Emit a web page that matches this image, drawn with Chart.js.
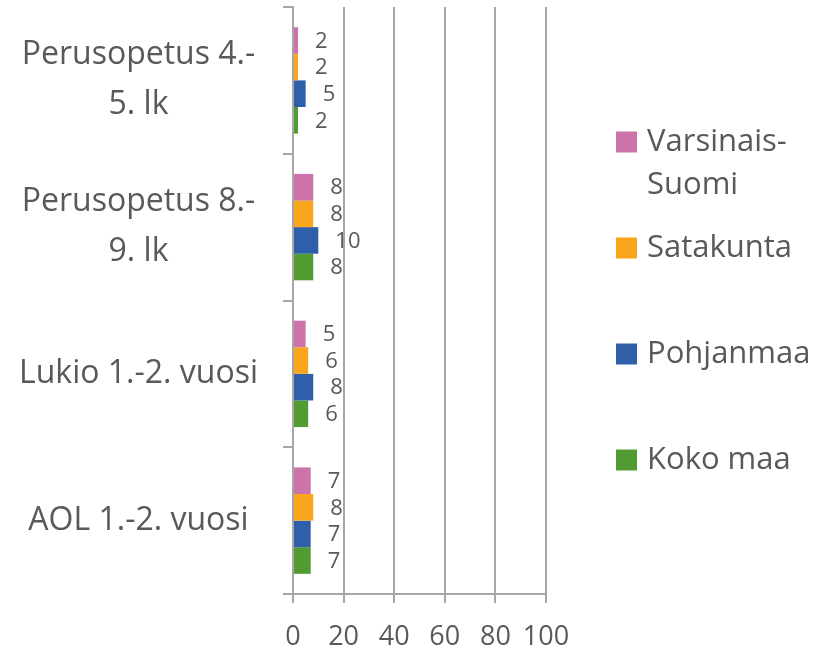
<!DOCTYPE html>
<html>
<head>
<meta charset="utf-8">
<script src="https://cdn.jsdelivr.net/npm/chart.js@4.4.1/dist/chart.umd.min.js"></script>
<style>
  html, body { margin: 0; padding: 0; background: #ffffff; }
  #chart { display: block; }
</style>
</head>
<body>
<canvas id="chart" width="821" height="649"></canvas>
<script>
// Categories, top to bottom
const categories = [
  ["Perusopetus 4.-", "5. lk"],
  ["Perusopetus 8.-", "9. lk"],
  "Lukio 1.-2. vuosi",
  "AOL 1.-2. vuosi"
]

// Series values (one per category)
const varsinaisSuomi = [2, 8, 5, 7]
const satakunta = [2, 8, 6, 8]
const pohjanmaa = [5, 10, 8, 7]
const kokoMaa = [2, 8, 6, 7]

const seriesNames = [["Varsinais-", "Suomi"], ["Satakunta"], ["Pohjanmaa"], ["Koko maa"]]
const seriesColors = ["#cb73aa", "#f9a61c", "#2f5fa9", "#519b32"]

// x axis ticks
const xMin = 0
const xMax = 100
const xStep = 20

const textColor = "#595959"
const lineColor = "#a6a6a6"
const fontFamily = "'Open Sans', 'DejaVu Sans', sans-serif"

// Value labels just after the bar end
const valueLabels = {
  id: "valueLabels",
  afterDatasetsDraw(chart) {
    const ctx = chart.ctx
    ctx.save()
    ctx.font = `22px ${fontFamily}`
    ctx.fillStyle = textColor
    ctx.textAlign = "left"
    ctx.textBaseline = "middle"
    chart.data.datasets.forEach((ds, i) => {
      const meta = chart.getDatasetMeta(i)
      meta.data.forEach((bar, j) => {
        ctx.fillText(String(ds.data[j]), bar.x + 17, bar.y + 1)
      })
    })
    ctx.restore()
  }
}

// Legend on the right, box aligned with the first text line
const sideLegend = {
  id: "sideLegend",
  afterDraw(chart) {
    const ctx = chart.ctx
    const area = chart.chartArea
    const boxX = area.right + 70
    const textX = boxX + 31
    const box = 21
    const step = 106
    const lineGap = 43
    let y = area.top + 135
    ctx.save()
    ctx.font = `31px ${fontFamily}`
    ctx.textAlign = "left"
    ctx.textBaseline = "middle"
    chart.data.datasets.forEach((ds, i) => {
      ctx.fillStyle = ds.backgroundColor
      ctx.fillRect(boxX, y - box / 2, box, box)
      ctx.fillStyle = textColor
      seriesNames[i].forEach((line, k) => {
        ctx.fillText(line, textX, y + k * lineGap)
      })
      y += step
    })
    ctx.restore()
  }
}

const ctx = document.getElementById("chart").getContext("2d")

new Chart(ctx, {
  type: "bar",
  data: {
    labels: categories,
    datasets: [
      { label: "Varsinais-Suomi", data: varsinaisSuomi, backgroundColor: seriesColors[0] },
      { label: "Satakunta", data: satakunta, backgroundColor: seriesColors[1] },
      { label: "Pohjanmaa", data: pohjanmaa, backgroundColor: seriesColors[2] },
      { label: "Koko maa", data: kokoMaa, backgroundColor: seriesColors[3] }
    ]
  },
  options: {
    indexAxis: "y",
    responsive: false,
    animation: false,
    events: [],
    layout: {
      autoPadding: false,
      padding: { left: 0, right: 275, top: 7, bottom: 0 }
    },
    datasets: {
      bar: {
        categoryPercentage: 0.725,
        barPercentage: 1.0,
        borderWidth: 0
      }
    },
    plugins: {
      legend: { display: false },
      tooltip: { enabled: false }
    },
    scales: {
      x: {
        type: "linear",
        min: xMin,
        max: xMax,
        afterFit(axis) {
          axis.height = 55
        },
        ticks: {
          stepSize: xStep,
          color: textColor,
          padding: 21,
          maxRotation: 0,
          minRotation: 0,
          autoSkip: false,
          font: { family: fontFamily, size: 27, lineHeight: 1.0 }
        },
        grid: {
          color: lineColor,
          lineWidth: 2,
          tickLength: 9
        },
        border: { display: true, color: lineColor, width: 2 }
      },
      y: {
        afterFit(axis) {
          // labels sit inside their category band, no extra room needed
          axis.width = 293
          axis.paddingTop = 0
          axis.paddingBottom = 0
        },
        ticks: {
          color: textColor,
          padding: 25,
          crossAlign: "center",
          font: { family: fontFamily, size: 32, lineHeight: "50px" }
        },
        grid: {
          color: lineColor,
          lineWidth: 2,
          tickLength: 10,
          drawOnChartArea: false
        },
        border: { display: true, color: lineColor, width: 2 }
      }
    }
  },
  plugins: [valueLabels, sideLegend]
})
</script>
</body>
</html>
